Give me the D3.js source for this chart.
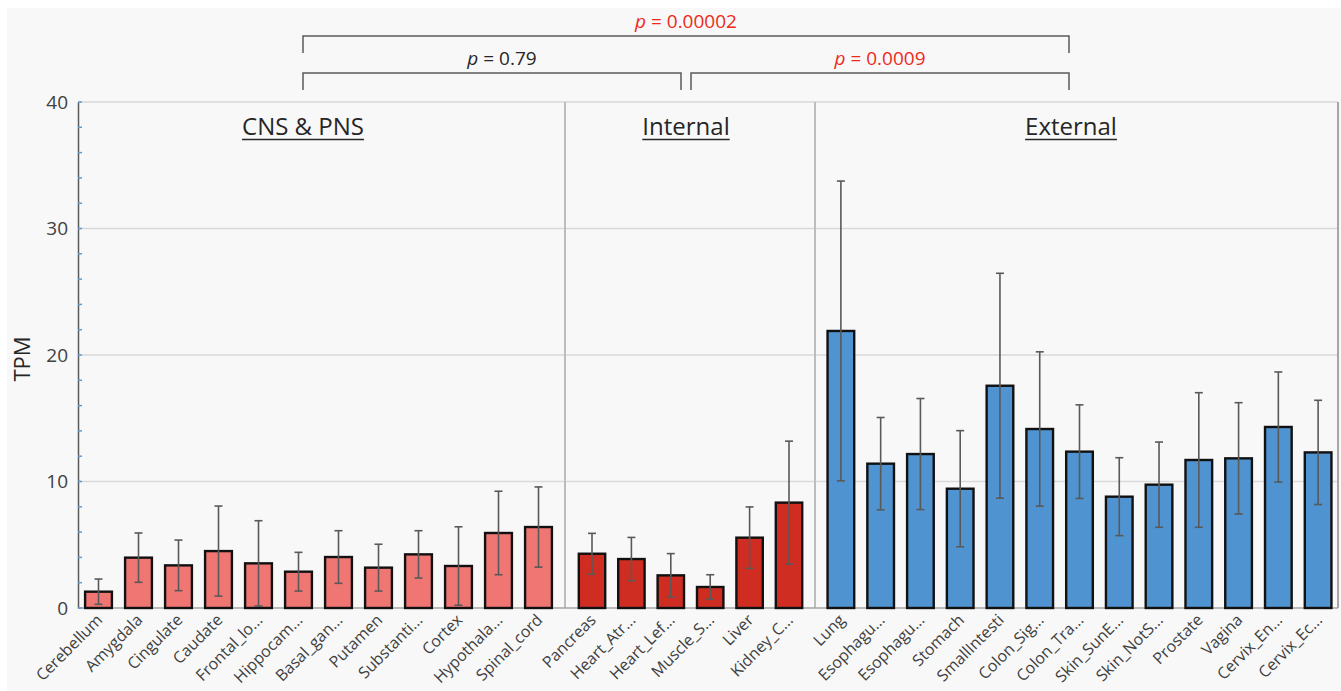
<!DOCTYPE html>
<html>
<head>
<meta charset="utf-8">
<script src="https://cdn.jsdelivr.net/npm/d3@7"></script>
<style>
  html, body { margin: 0; padding: 0; background: #ffffff; }
  svg { display: block; font-family: "Open Sans", "Noto Sans", sans-serif; }
</style>
</head>
<body>
<svg id="chart" width="1341" height="691"></svg>
<script>
// Tissue groups and their categories
const cnsTissues = ["Cerebellum", "Amygdala", "Cingulate", "Caudate", "Frontal_lo...", "Hippocam...",
  "Basal_gan...", "Putamen", "Substanti...", "Cortex", "Hypothala...", "Spinal_cord"];
const internalTissues = ["Pancreas", "Heart_Atr...", "Heart_Lef...", "Muscle_S...", "Liver", "Kidney_C..."];
const externalTissues = ["Lung", "Esophagu...", "Esophagu... ", "Stomach", "SmallIntesti", "Colon_Sig...",
  "Colon_Tra...", "Skin_SunE...", "Skin_NotS...", "Prostate", "Vagina", "Cervix_En...", "Cervix_Ec..."];

// Mean TPM per tissue
const cnsMean = [1.29, 3.98, 3.37, 4.50, 3.53, 2.87, 4.03, 3.19, 4.24, 3.32, 5.93, 6.40];
const internalMean = [4.29, 3.87, 2.58, 1.66, 5.56, 8.33];
const externalMean = [21.90, 11.41, 12.17, 9.43, 17.57, 14.15, 12.36, 8.80, 9.75, 11.70, 11.83, 14.31, 12.30];

// Standard deviation per tissue (error bars)
const cnsSd = [1.00, 1.95, 2.00, 3.56, 3.37, 1.53, 2.08, 1.85, 1.87, 3.10, 3.30, 3.17];
const internalSd = [1.61, 1.71, 1.72, 0.97, 2.43, 4.86];
const externalSd = [11.85, 3.65, 4.39, 4.59, 8.89, 6.10, 3.70, 3.08, 3.37, 5.32, 4.40, 4.35, 4.12];

// Group titles
const groupTitles = ["CNS & PNS", "Internal", "External"];

// Pairwise comparisons between groups
const comparisons = [
  { a: 0, b: 2, row: 0, p: "0.00002", significant: true },
  { a: 0, b: 1, row: 1, p: "0.79", significant: false },
  { a: 1, b: 2, row: 1, p: "0.0009", significant: true }
];

// Y axis ticks
const yTicks = [0, 10, 20, 30, 40];

const svg = d3.select("#chart");
const W = 1341, H = 691;

// Layout
const plot = { left: 78, right: 1338, top: 102, bottom: 608 };
const panelRanges = [[78.5, 558.5], [572.3, 808.7], [821, 1338]];
const separators = [565, 815];
const titleCenters = [303, 686, 1071];
const colors = ["#f07674", "#d02d22", "#4f94d0"];

const groups = [
  { names: cnsTissues, mean: cnsMean, sd: cnsSd },
  { names: internalTissues, mean: internalMean, sd: internalSd },
  { names: externalTissues, mean: externalMean, sd: externalSd }
];

// background
svg.append("rect").attr("x", 0).attr("y", 0).attr("width", W).attr("height", H).attr("fill", "#ffffff");
svg.append("rect").attr("x", 7).attr("y", 8).attr("width", W - 7).attr("height", H - 8).attr("fill", "#f8f8f8");

const y = d3.scaleLinear().domain([0, 40]).range([plot.bottom, plot.top]);

// gridlines
svg.append("g")
  .selectAll("line")
  .data(yTicks.filter(t => t > 0))
  .join("line")
  .attr("x1", plot.left).attr("x2", plot.right)
  .attr("y1", d => y(d)).attr("y2", d => y(d))
  .attr("stroke", "#d9d9d9").attr("stroke-width", 1.5);

// right border
svg.append("line")
  .attr("x1", plot.right).attr("x2", plot.right)
  .attr("y1", plot.top).attr("y2", plot.bottom)
  .attr("stroke", "#8c8c8c").attr("stroke-width", 1.5);

// group separators
svg.append("g").selectAll("line").data(separators).join("line")
  .attr("x1", d => d).attr("x2", d => d)
  .attr("y1", plot.top).attr("y2", plot.bottom)
  .attr("stroke", "#bdbdbd").attr("stroke-width", 2);

// bottom baseline
svg.append("line")
  .attr("x1", plot.left).attr("x2", plot.right)
  .attr("y1", plot.bottom).attr("y2", plot.bottom)
  .attr("stroke", "#a6a6a6").attr("stroke-width", 1.5);

// y axis
const yAxis = d3.axisLeft(y).tickValues(yTicks).tickSize(0).tickPadding(10);
const yg = svg.append("g").attr("transform", `translate(${plot.left},0)`).call(yAxis);
yg.select(".domain").attr("stroke", "#595959").attr("stroke-width", 1.5);
yg.selectAll(".tick text").attr("font-size", 19).attr("fill", "#404040")
  .attr("font-family", "'Open Sans', sans-serif");

// minor ticks (every 2 TPM), drawn inside the axis
svg.append("g").selectAll("line").data(d3.range(0, 41, 2)).join("line")
  .attr("x1", plot.left).attr("x2", plot.left + 4)
  .attr("y1", d => y(d)).attr("y2", d => y(d))
  .attr("stroke", "#5b9bd5").attr("stroke-width", 1.5);

// y title
svg.append("text")
  .attr("transform", `translate(30,${(plot.top + plot.bottom) / 2 + 4}) rotate(-90)`)
  .attr("text-anchor", "middle")
  .attr("font-size", 22).attr("fill", "#262626")
  .text("TPM");

// bars, error bars, labels per group
groups.forEach((g, gi) => {
  const x = d3.scaleBand().domain(g.names).range(panelRanges[gi]).paddingInner(0.33).paddingOuter(0.165);
  const rows = g.names.map((n, i) => ({ name: n, mean: g.mean[i], sd: g.sd[i] }));
  const layer = svg.append("g");

  layer.selectAll("rect").data(rows).join("rect")
    .attr("x", d => x(d.name))
    .attr("width", x.bandwidth())
    .attr("y", d => y(d.mean))
    .attr("height", d => y(0) - y(d.mean))
    .attr("fill", colors[gi])
    .attr("stroke", "#111111").attr("stroke-width", 2.4);

  const cx = d => x(d.name) + x.bandwidth() / 2;
  const err = layer.append("g").attr("stroke", "#595959").attr("stroke-width", 1.6);
  err.selectAll("line.v").data(rows).join("line").attr("class", "v")
    .attr("x1", cx).attr("x2", cx)
    .attr("y1", d => y(d.mean + d.sd)).attr("y2", d => y(Math.max(0, d.mean - d.sd)));
  err.selectAll("line.t").data(rows).join("line").attr("class", "t")
    .attr("x1", d => cx(d) - 4).attr("x2", d => cx(d) + 4)
    .attr("y1", d => y(d.mean + d.sd)).attr("y2", d => y(d.mean + d.sd));
  err.selectAll("line.b").data(rows).join("line").attr("class", "b")
    .attr("x1", d => cx(d) - 4).attr("x2", d => cx(d) + 4)
    .attr("y1", d => y(Math.max(0, d.mean - d.sd))).attr("y2", d => y(Math.max(0, d.mean - d.sd)));

  // rotated category labels
  layer.selectAll("text.cat").data(rows).join("text").attr("class", "cat")
    .attr("transform", d => `translate(${cx(d) + 5},${plot.bottom + 13}) rotate(-45)`)
    .attr("text-anchor", "end")
    .attr("font-size", 16).attr("fill", "#404040")
    .text(d => d.name.trim());

  // group title, underlined
  const t = svg.append("text")
    .attr("x", titleCenters[gi]).attr("y", 135)
    .attr("text-anchor", "middle")
    .attr("font-size", 24).attr("fill", "#262626")
    .text(groupTitles[gi]);
  const bb = t.node().getBBox();
  svg.append("line")
    .attr("x1", bb.x).attr("x2", bb.x + bb.width)
    .attr("y1", 139.5).attr("y2", 139.5)
    .attr("stroke", "#262626").attr("stroke-width", 1.5);
});

// significance brackets
const rowY = [36, 73];
const tickLen = 17;
comparisons.forEach(c => {
  const inset = c.row === 1 ? 5 : 0;
  const x1 = titleCenters[c.a] + (c.a === 1 ? inset : 0);
  const x2 = titleCenters[c.b] - (c.b === 1 ? inset : 0) - (c.b === 2 ? 2 : 0);
  const yy = rowY[c.row];
  svg.append("path")
    .attr("d", `M${x1},${yy + tickLen}V${yy}H${x2}V${yy + tickLen}`)
    .attr("fill", "none").attr("stroke", "#595959").attr("stroke-width", 1.5);
  const label = svg.append("text")
    .attr("x", (x1 + x2) / 2 + (c.significant ? 0 : 10)).attr("y", yy - 8)
    .attr("text-anchor", "middle")
    .attr("font-size", 19)
    .attr("fill", c.significant ? "#ee2a1b" : "#262626");
  label.append("tspan").attr("font-style", "italic").text("p");
  label.append("tspan").text(" = " + c.p);
});
</script>
</body>
</html>
